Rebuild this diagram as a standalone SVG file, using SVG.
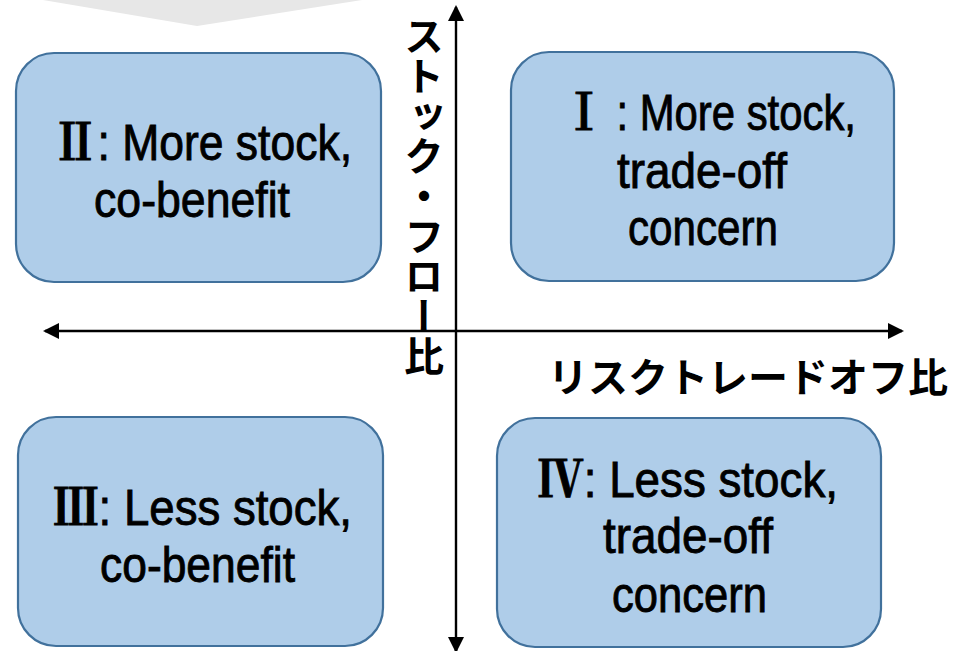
<svg xmlns="http://www.w3.org/2000/svg" width="965" height="651" viewBox="0 0 965 651">
  <defs>
    <style>
      .box { fill: #afcde9; stroke: #41719c; stroke-width: 2.2; }
      .lbl { font-family: "Liberation Sans Narrow", "Liberation Sans", "Noto Sans CJK JP", sans-serif; font-size: 50px; fill: #000; stroke: #000; stroke-width: 0.9; }
      .num { font-family: "Liberation Serif", "Noto Serif CJK JP", "Noto Sans CJK JP", serif; font-weight: 700; }
      .jp { font-family: "Noto Sans CJK JP", sans-serif; font-weight: 700; fill: #000; }
      .axis { stroke: #000; stroke-width: 2.4; fill: none; }
    </style>
    <marker id="head" viewBox="0 0 16 16" refX="14" refY="8" markerWidth="16" markerHeight="16" markerUnits="userSpaceOnUse" orient="auto-start-reverse">
      <path d="M0,0 L16,8 L0,16 Z" fill="#000"/>
    </marker>
  </defs>

  <rect width="965" height="651" fill="#fff"/>

  <!-- grey chevron coming in from above -->
  <polygon points="43,0 362,0 197,26" fill="#e7e7e7"/>

  <!-- quadrant boxes -->
  <g id="quadrant-2">
    <rect class="box" x="16" y="53" width="365" height="229" rx="38"/>
    <text class="lbl" x="53" y="160" textLength="299" lengthAdjust="spacingAndGlyphs"><tspan class="num">Ⅱ</tspan>: More stock,</text>
    <text class="lbl" x="94" y="217" textLength="196" lengthAdjust="spacingAndGlyphs">co-benefit</text>
  </g>

  <g id="quadrant-1">
    <rect class="box" x="511" y="52" width="383" height="229" rx="38"/>
    <text class="lbl" x="563" y="130" textLength="293" lengthAdjust="spacingAndGlyphs"><tspan class="num">Ⅰ</tspan> : More stock,</text>
    <text class="lbl" x="617" y="188" textLength="170" lengthAdjust="spacingAndGlyphs">trade-off</text>
    <text class="lbl" x="628" y="245" textLength="150" lengthAdjust="spacingAndGlyphs">concern</text>
  </g>

  <g id="quadrant-3">
    <rect class="box" x="18" y="417" width="365" height="229" rx="38"/>
    <text class="lbl" x="53" y="525" textLength="299" lengthAdjust="spacingAndGlyphs"><tspan class="num">Ⅲ</tspan>: Less stock,</text>
    <text class="lbl" x="100" y="582" textLength="195" lengthAdjust="spacingAndGlyphs">co-benefit</text>
  </g>

  <g id="quadrant-4">
    <rect class="box" x="497" y="418" width="384" height="229" rx="38"/>
    <text class="lbl" x="538" y="497" textLength="300" lengthAdjust="spacingAndGlyphs"><tspan class="num">Ⅳ</tspan>: Less stock,</text>
    <text class="lbl" x="603" y="553" textLength="170" lengthAdjust="spacingAndGlyphs">trade-off</text>
    <text class="lbl" x="612" y="612" textLength="155" lengthAdjust="spacingAndGlyphs">concern</text>
  </g>

  <!-- axes -->
  <g id="connectors">
    <line class="axis" x1="456" y1="660" x2="456" y2="7" marker-end="url(#head)"/>
    <line class="axis" x1="456" y1="640" x2="456" y2="651" marker-end="url(#head)"/>
    <line class="axis" x1="45" y1="331" x2="902" y2="331" marker-start="url(#head)" marker-end="url(#head)"/>
  </g>

  <!-- axis titles -->
  <g id="axis-y-title">
    <text class="jp" x="424" y="16" font-size="40" style="writing-mode: vertical-rl; text-orientation: upright;">ストック・フロー比</text>
  </g>
  <g id="axis-x-title">
    <text class="jp" x="548" y="392" font-size="40" textLength="400" lengthAdjust="spacingAndGlyphs">リスクトレードオフ比</text>
  </g>
</svg>
